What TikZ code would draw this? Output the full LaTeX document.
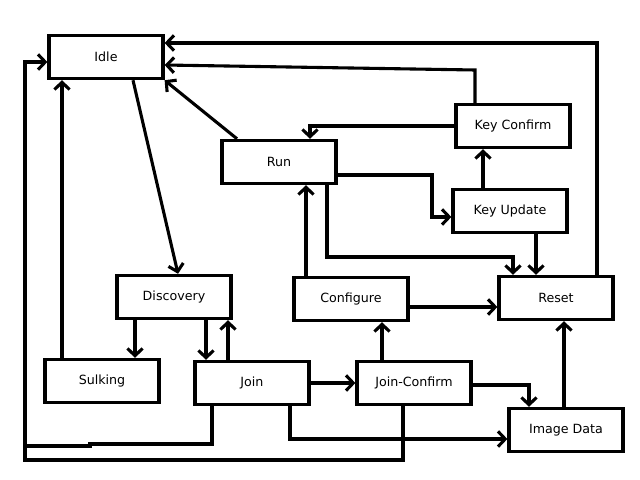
\documentclass[tikz,border=0pt]{standalone}
\usepackage{fontspec}
\setmainfont{DejaVu Sans}
\usepackage{tikz}
\usetikzlibrary{positioning, arrows.meta}
\tikzset{
  stbox/.style={draw, line width=2.3pt, minimum width=2.85cm, minimum height=1.08cm,
    inner sep=2pt, font=\fontsize{9}{11}\selectfont, align=center},
  arr/.style={-{Straight Barb[length=1.8mm,width=3.8mm,line width=2.2pt]}, line width=2.2pt},
  plain/.style={line width=2.2pt},
}

\begin{document}
\begin{tikzpicture}[x=0.025cm, y=-0.025cm]
  \useasboundingbox (0,0) rectangle (640,480);
  % states
  \node[stbox] (idle)  at (106,57)  {Idle};
  \node[stbox] (run)   at (279,162) {Run};
  \node[stbox] (kconf) at (513,126) {Key Confirm};
  \node[stbox] (kupd)  at (510,211) {Key Update};
  \node[stbox] (disc)  at (174,297) {Discovery};
  \node[stbox] (conf)  at (351,299) {Configure};
  \node[stbox] (reset) at (556,298) {Reset};
  \node[stbox] (sulk)  at (102,381) {Sulking};
  \node[stbox] (join)  at (252,383) {Join};
  \node[stbox] (jconf) at (414,383) {Join-Confirm};
  \node[stbox] (image) at (566,430) {Image Data};
  \coordinate (merge) at (25,446);

  % back to idle
  \draw[arr] (reset.north -| 597,0) |- (idle.east |- 0,43);
  \draw[arr] (kconf.north -| 475,0) -- (475,70) -- (idle.east |- 0,65);
  \draw[arr] (run.north -| 237,0) -- (idle.south east);
  \draw[arr] (sulk.north -| 62,0) -- (idle.south -| 62,0);
  \draw[arr] (jconf.south -| 403,0) |- (25,460) |- (idle.west |- 0,62);
  \draw[plain] (join.south -| 212,0) |- (90,444) -- (90,446) -- (merge);

  % from idle
  \draw[arr] (idle.south -| 133,0) -- (disc.north -| 178,0);
  \draw[arr] (disc.south -| 135,0) -- (sulk.north -| 135,0);
  \draw[arr] (disc.south -| 206,0) -- (join.north -| 206,0);
  \draw[arr] (join.north -| 228,0) -- (disc.south -| 228,0);
  \draw[arr] (join.east) -- (jconf.west);
  \draw[arr] (join.south -| 290,0) |- (image.west |- 0,439);
  \draw[arr] (jconf.north -| 382,0) -- (conf.south -| 382,0);
  \draw[arr] (jconf.east |- 0,385) -| (image.north -| 529,0);

  % run and keys
  \draw[arr] (conf.north -| 306,0) -- (run.south -| 306,0);
  \draw[arr] (conf.east |- 0,307) -- (reset.west |- 0,307);
  \draw[arr] (run.east |- 0,175) -| (432,217) -- (kupd.west |- 0,217);
  \draw[arr] (run.south -| 327,0) |- (513,257) -- (reset.north -| 513,0);
  \draw[arr] (kupd.north -| 483,0) -- (kconf.south -| 483,0);
  \draw[arr] (kconf.west) -| (run.north -| 310,0);
  \draw[arr] (kupd.south -| 536,0) -- (reset.north -| 536,0);
  \draw[arr] (image.north -| 564,0) -- (reset.south -| 564,0);
\end{tikzpicture}
\end{document}
